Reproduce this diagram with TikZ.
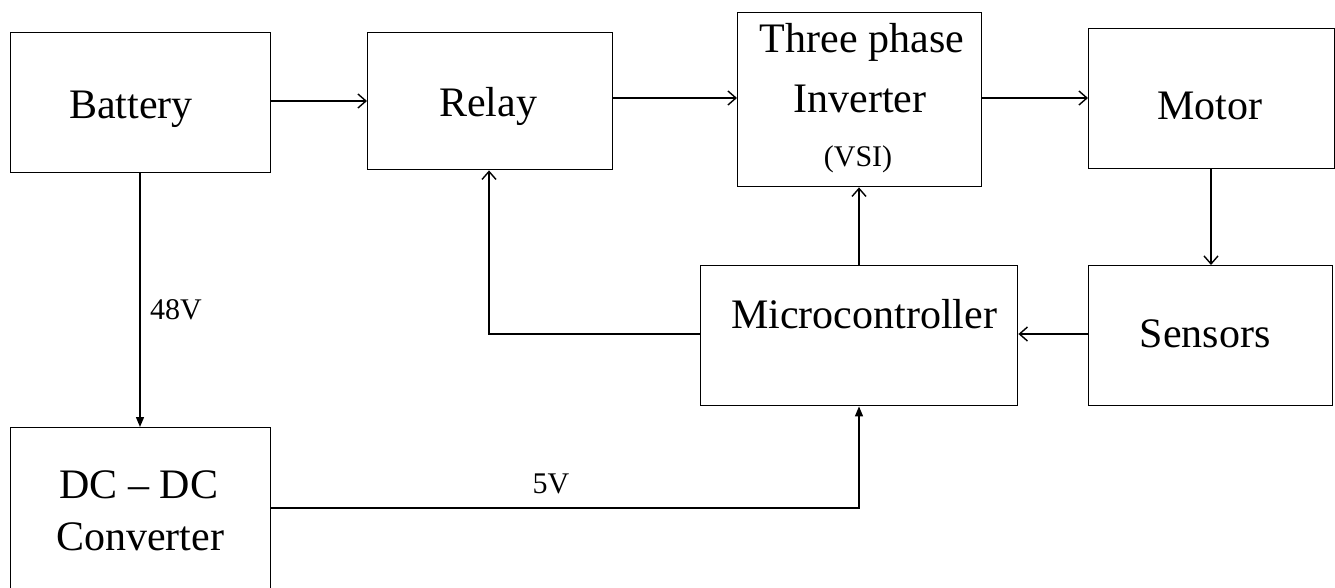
\documentclass[tikz,border=0pt]{standalone}
\usepackage{fontspec}
\setmainfont{Liberation Serif}
\usetikzlibrary{arrows.meta}
\tikzset{
  blk/.style={draw, line width=1.4pt, inner sep=0pt, anchor=north west},
  big/.style={font=\fontsize{42}{48}\selectfont, anchor=base, inner sep=0pt},
  small/.style={font=\fontsize{30}{34}\selectfont, anchor=base, inner sep=0pt},
  wire/.style={line width=1.4pt},
  oarr/.style={wire, -{Straight Barb[length=8pt,width=14pt,line width=1.4pt]}},
  farr/.style={wire, -{Triangle[length=10pt,width=8pt]}}
}
\begin{document}
\begin{tikzpicture}[x=1pt,y=-1pt]
\clip (0,0) rectangle (1335,588);
\fill[white] (0,0) rectangle (1335,588);
% boxes
\node[blk, minimum width=260pt, minimum height=140pt] (bat) at (10,32) {};
\node[blk, minimum width=245pt, minimum height=137pt] (rel) at (367,32) {};
\node[blk, minimum width=244pt, minimum height=174pt] (inv) at (737,12) {};
\node[blk, minimum width=246pt, minimum height=140pt] (mot) at (1088,28) {};
\node[blk, minimum width=244pt, minimum height=140pt] (sen) at (1088,265) {};
\node[blk, minimum width=317pt, minimum height=140pt] (mcu) at (700,265) {};
\node[blk, minimum width=260pt, minimum height=175pt] (dcdc) at (10,427) {};
% texts
\node[big] (tbat) at (131,119) {Battery};
\node[big] (trel) at (488,117) {Relay};
\node[big] (tinv1) at (862,53) {Three phase};
\node[big] (tinv2) at (860,113) {Inverter};
\node[small] (tinv3) at (858,167) {(VSI)};
\node[big] (tmot) at (1210,120) {Motor};
\node[big] (tsen) at (1205,347) {Sensors};
\node[big] (tmcu) at (864,328) {Microcontroller};
\node[big] (tdc1) at (139,498) {DC -- DC};
\node[big] (tdc2) at (140,550) {Converter};
\node[small] (l48) at (176,319) {48V};
\node[small] (l5) at (551,493) {5V};
% connectors
\coordinate (r1) at (rel.west |- 0,101);
\draw[oarr] (bat.east |- r1) -- (r1);
\coordinate (i1) at (inv.west |- 0,98);
\draw[oarr] (rel.east |- i1) -- (i1);
\coordinate (m1) at (mot.west |- 0,98);
\draw[oarr] (inv.east |- m1) -- (m1);
\coordinate (s1) at (1211,0);
\draw[oarr] (mot.south -| s1) -- (sen.north -| s1);
\coordinate (c1) at (0,334);
\draw[oarr] (sen.west |- c1) -- (mcu.east |- c1);
\coordinate (k1) at (859,0);
\draw[oarr] (mcu.north -| k1) -- (inv.south -| k1);
\coordinate (q1) at (489,334);
\draw[oarr] (mcu.west |- q1) -- (q1) -- (rel.south -| q1);
\coordinate (b1) at (140,0);
\draw[farr] (bat.south -| b1) -- (dcdc.north -| b1);
\coordinate (v1) at (859,508);
\draw[farr] (dcdc.east |- v1) -- (v1) -- (mcu.south -| v1);
\end{tikzpicture}
\end{document}
